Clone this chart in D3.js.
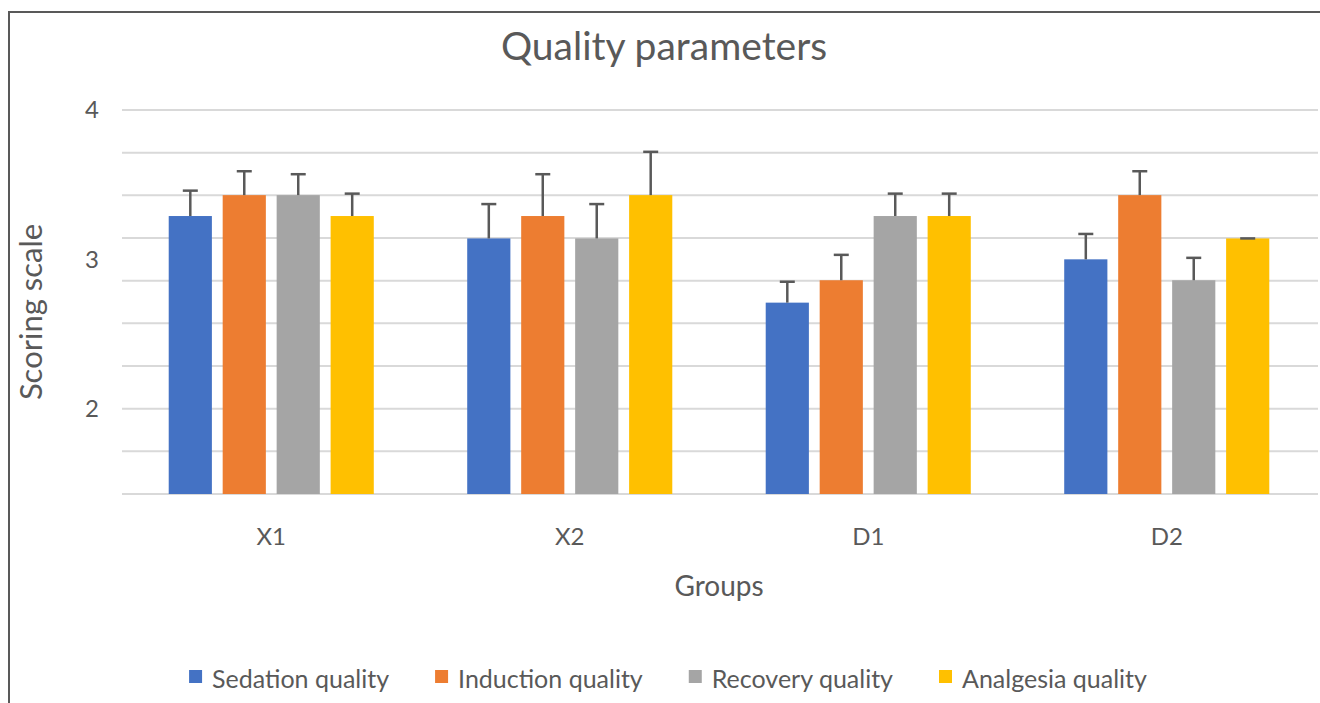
<!DOCTYPE html>
<html>
<head>
<meta charset="utf-8">
<script src="https://cdn.jsdelivr.net/npm/d3@7"></script>
<style>
  html, body { margin: 0; padding: 0; background: #fff; }
  svg { display: block; font-family: Lato, 'Noto Sans', sans-serif; }
</style>
</head>
<body>
<svg id="chart" width="1320" height="703"></svg>
<script>
'use strict';

// data
const groups    = [ 'X1', 'X2', 'D1', 'D2' ];
const series    = [ 'Sedation quality', 'Induction quality', 'Recovery quality', 'Analgesia quality' ];
const sedation  = [ 3.29, 3.14, 2.71, 3.00 ];
const induction = [ 3.43, 3.29, 2.86, 3.43 ];
const recovery  = [ 3.43, 3.14, 3.29, 2.86 ];
const analgesia = [ 3.29, 3.43, 3.29, 3.14 ];
const sedationErr  = [ 0.17, 0.23, 0.14, 0.17 ];
const inductionErr = [ 0.16, 0.28, 0.17, 0.16 ];
const recoveryErr  = [ 0.14, 0.23, 0.15, 0.15 ];
const analgesiaErr = [ 0.15, 0.29, 0.15, 0.00 ];
const yTickLabels  = [ 2, 3, 4 ];
const yDomain      = [ 10 / 7, 4 ];
const gridStep     = 2 / 7;

const values = [ sedation, induction, recovery, analgesia ],
      errors = [ sedationErr, inductionErr, recoveryErr, analgesiaErr ],
      colors = [ '#4472C4', '#ED7D31', '#A5A5A5', '#FFC000' ],
      textColor = '#595959';

// flat rows for drawing
const rows = [];
groups.forEach( (g, gi) => {
  series.forEach( (s, si) => {
    rows.push({ group: g, series: s, value: values[si][gi], err: errors[si][gi], color: colors[si] });
  });
});

const svg = d3.select( '#chart' );

// plot area
const plot = { left: 122, right: 1316, top: 110, bottom: 494 };

// scales
const x = d3.scaleBand()
            .domain( groups )
            .range( [ plot.left, plot.right ] )
            .paddingInner( 0.313 )
            .paddingOuter( 0.1565 );
const xs = d3.scaleBand()
             .domain( series )
             .range( [ 0, x.bandwidth() ] )
             .paddingInner( 0.2 )
             .paddingOuter( 0 );
const y = d3.scaleLinear()
            .domain( yDomain )
            .range( [ plot.bottom, plot.top ] );

// chart border (cut off at right and bottom)
svg.append( 'path' )
    .attr( 'd', 'M9,703 V12 H1320' )
    .attr( 'fill', 'none' )
    .attr( 'stroke', textColor )
    .attr( 'stroke-width', 2 );

// gridlines
const gridValues = d3.range( 0, 10 ).map( (i) => yDomain[0] + i * gridStep );
svg.append( 'g' )
    .attr( 'class', 'grid' )
  .selectAll( 'line' )
    .data( gridValues )
  .enter().append( 'line' )
    .attr( 'x1', plot.left )
    .attr( 'x2', 1318 )
    .attr( 'y1', (d) => y( d ) )
    .attr( 'y2', (d) => y( d ) )
    .attr( 'stroke', '#D9D9D9' )
    .attr( 'stroke-width', 2 );

// y axis labels
const yAxis = d3.axisLeft( y )
                .tickValues( yTickLabels )
                .tickSize( 0 )
                .tickPadding( 0 )
                .tickFormat( d3.format( 'd' ) );
const yg = svg.append( 'g' )
    .attr( 'transform', 'translate(99,0)' )
    .call( yAxis );
yg.select( '.domain' ).remove();
yg.selectAll( 'text' )
    .attr( 'fill', textColor )
    .style( 'font-size', '24px' )
    .style( 'font-family', 'Lato, sans-serif' );

// x axis labels
const xAxis = d3.axisBottom( x ).tickSize( 0 ).tickPadding( 0 );
const xg = svg.append( 'g' )
    .attr( 'transform', 'translate(0,' + plot.bottom + ')' )
    .call( xAxis );
xg.select( '.domain' ).remove();
xg.selectAll( 'text' )
    .attr( 'dy', null )
    .attr( 'y', 51 )
    .attr( 'fill', textColor )
    .style( 'font-size', '24px' )
    .style( 'font-family', 'Lato, sans-serif' );

// bars
svg.append( 'g' )
    .attr( 'class', 'bars' )
  .selectAll( 'rect' )
    .data( rows )
  .enter().append( 'rect' )
    .attr( 'x', (d) => x( d.group ) + xs( d.series ) )
    .attr( 'y', (d) => y( d.value ) )
    .attr( 'width', xs.bandwidth() )
    .attr( 'height', (d) => y( yDomain[0] ) - y( d.value ) )
    .attr( 'fill', (d) => d.color );

// error bars (plus direction only)
const eb = svg.append( 'g' )
    .attr( 'class', 'errorbars' )
  .selectAll( 'g' )
    .data( rows )
  .enter().append( 'g' )
    .attr( 'transform', (d) => 'translate(' + (x( d.group ) + xs( d.series ) + xs.bandwidth() / 2) + ',0)' );
eb.append( 'line' )
    .attr( 'x1', 0 ).attr( 'x2', 0 )
    .attr( 'y1', (d) => y( d.value ) )
    .attr( 'y2', (d) => y( d.value + d.err ) )
    .attr( 'stroke', textColor )
    .attr( 'stroke-width', 2.5 );
eb.append( 'line' )
    .attr( 'x1', -7.5 ).attr( 'x2', 7.5 )
    .attr( 'y1', (d) => y( d.value + d.err ) )
    .attr( 'y2', (d) => y( d.value + d.err ) )
    .attr( 'stroke', textColor )
    .attr( 'stroke-width', 2.5 );

// title
svg.append( 'text' )
    .attr( 'x', 664 )
    .attr( 'y', 60 )
    .attr( 'text-anchor', 'middle' )
    .attr( 'fill', textColor )
    .style( 'font-size', '39px' )
    .text( 'Quality parameters' );

// axis titles
svg.append( 'text' )
    .attr( 'transform', 'translate(42,312) rotate(-90)' )
    .attr( 'text-anchor', 'middle' )
    .attr( 'fill', textColor )
    .style( 'font-size', '31px' )
    .text( 'Scoring scale' );
svg.append( 'text' )
    .attr( 'x', 719 )
    .attr( 'y', 596 )
    .attr( 'text-anchor', 'middle' )
    .attr( 'fill', textColor )
    .style( 'font-size', '28px' )
    .text( 'Groups' );

// legend, centred like the original
const legend = svg.append( 'g' ).attr( 'class', 'legend' );
const items = legend.selectAll( 'g' )
    .data( series )
  .enter().append( 'g' );
items.append( 'rect' )
    .attr( 'width', 13 )
    .attr( 'height', 13 )
    .attr( 'y', 670 )
    .attr( 'fill', (d, i) => colors[i] );
items.append( 'text' )
    .attr( 'x', 23 )
    .attr( 'y', 688 )
    .attr( 'fill', textColor )
    .style( 'font-size', '25px' )
    .text( (d) => d );

const gap = 46;
const widths = [];
items.each( function(){ widths.push( 23 + d3.select( this ).select( 'text' ).node().getComputedTextLength() ); } );
const total = d3.sum( widths ) + gap * (widths.length - 1);
let cx = 668 - total / 2;
items.attr( 'transform', (d, i) => {
  const t = 'translate(' + cx + ',0)';
  cx += widths[i] + gap;
  return t;
});
</script>
</body>
</html>
